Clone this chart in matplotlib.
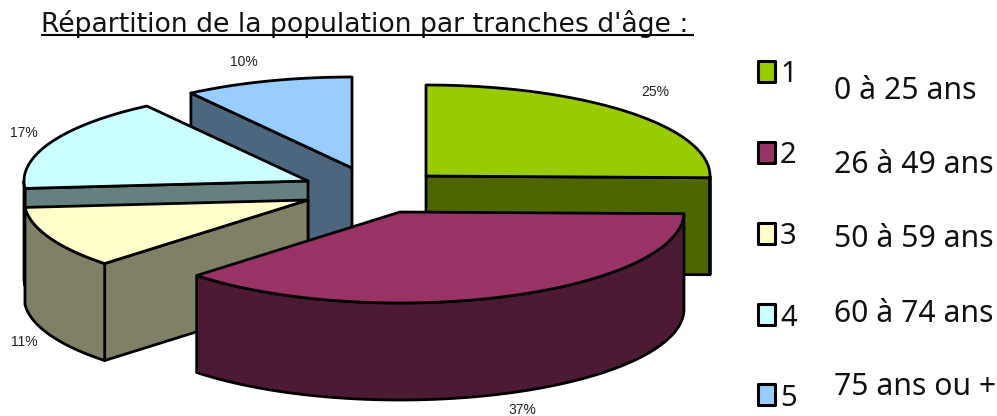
import numpy as np
import matplotlib
matplotlib.use('Agg')
import matplotlib.pyplot as plt
from matplotlib.patches import Polygon, Rectangle

title = "Répartition de la population par tranches d'âge :"
slice_ids = ['1', '2', '3', '4', '5']
age_labels = ['0 à 25 ans', '26 à 49 ans', '50 à 59 ans', '60 à 74 ans', '75 ans ou +']
shares = [25.3, 37.4, 11.0, 16.7, 9.6]

top_colors = ['#99CC00', '#993366', '#FFFFCC', '#CCFFFF', '#99CCFF']
wall_colors = ['#4D6600', '#4D1A33', '#808066', '#668080', '#4D6680']

# pie layout in pixels (exploded apex of each slice)
apex = [(426, 176), (400, 212), (308, 200), (308, 181), (352, 168)]
label_pos = [(655, 92), (522, 409.5), (24, 342), (24, 133), (244, 62)]
rx, ry, depth = 284, 91, 97
line = 2.0

fig = plt.figure(figsize=(9.97, 4.16), dpi=100)
ax = fig.add_axes([0, 0, 1, 1])
ax.set_xlim(0, 997)
ax.set_ylim(416, 0)
ax.axis('off')


def arc(cx, cy, a0, a1, dy=0):
    # angles clockwise from 12 o'clock
    t = np.radians(np.linspace(a0, a1, 80))
    return np.column_stack([cx + rx * np.sin(t), cy - ry * np.cos(t) + dy])


def add_poly(pts, color, z):
    ax.add_patch(Polygon(pts, closed=True, facecolor=color, edgecolor='black',
                         linewidth=line, joinstyle='round', zorder=z))


def draw_slice(i, a0, a1, z):
    cx, cy = apex[i]
    wall = wall_colors[i]
    # flat faces, only the ones turned towards the viewer
    for a, visible in ((a0, np.sin(np.radians(a0)) < 0), (a1, np.sin(np.radians(a1)) > 0)):
        if visible:
            p = arc(cx, cy, a, a)[0]
            add_poly([(cx, cy), p, (p[0], p[1] + depth), (cx, cy + depth)], wall, z)
    # outer wall only where it faces the viewer
    f0, f1 = max(a0, 90), min(a1, 270)
    if f1 > f0:
        add_poly(np.vstack([arc(cx, cy, f0, f1), arc(cx, cy, f1, f0, depth)]), wall, z + 0.1)
    add_poly(np.vstack([[(cx, cy)], arc(cx, cy, a0, a1)]), top_colors[i], z + 0.2)


edges = np.cumsum([0] + shares) / sum(shares) * 360
# back slices first so the front ones overlap them
for z, i in enumerate([4, 3, 2, 0, 1]):
    draw_slice(i, edges[i], edges[i + 1], z + 1)

for (x, y), s in zip(label_pos, shares):
    ax.text(x, y, f'{s:.0f}%', ha='center', va='center', fontsize=10,
            family='Liberation Sans', color='#222222', zorder=20)

ax.text(41, 31.5, title, ha='left', va='baseline', fontsize=19.2, color='#111111',
        family='DejaVu Sans')
ax.plot([41, 694], [35, 35], color='black', lw=1.5, solid_capstyle='butt')

square_y = [71, 152, 233, 314, 394]
id_y = [82, 163, 244, 326, 406]
age_y = [99, 173, 247, 322, 395]
for i in range(5):
    ax.add_patch(Rectangle((757.5, square_y[i] - 10.5), 17, 21, facecolor=top_colors[i],
                           edgecolor='black', linewidth=2.2, joinstyle='round'))
    ax.text(780, id_y[i], slice_ids[i], ha='left', va='baseline', fontsize=21,
            family='Noto Sans', color='#111111')
    ax.text(834, age_y[i], age_labels[i], ha='left', va='baseline', fontsize=21.7,
            family='Noto Sans', color='#111111')

fig.savefig('out.png', dpi=100, facecolor='white')
